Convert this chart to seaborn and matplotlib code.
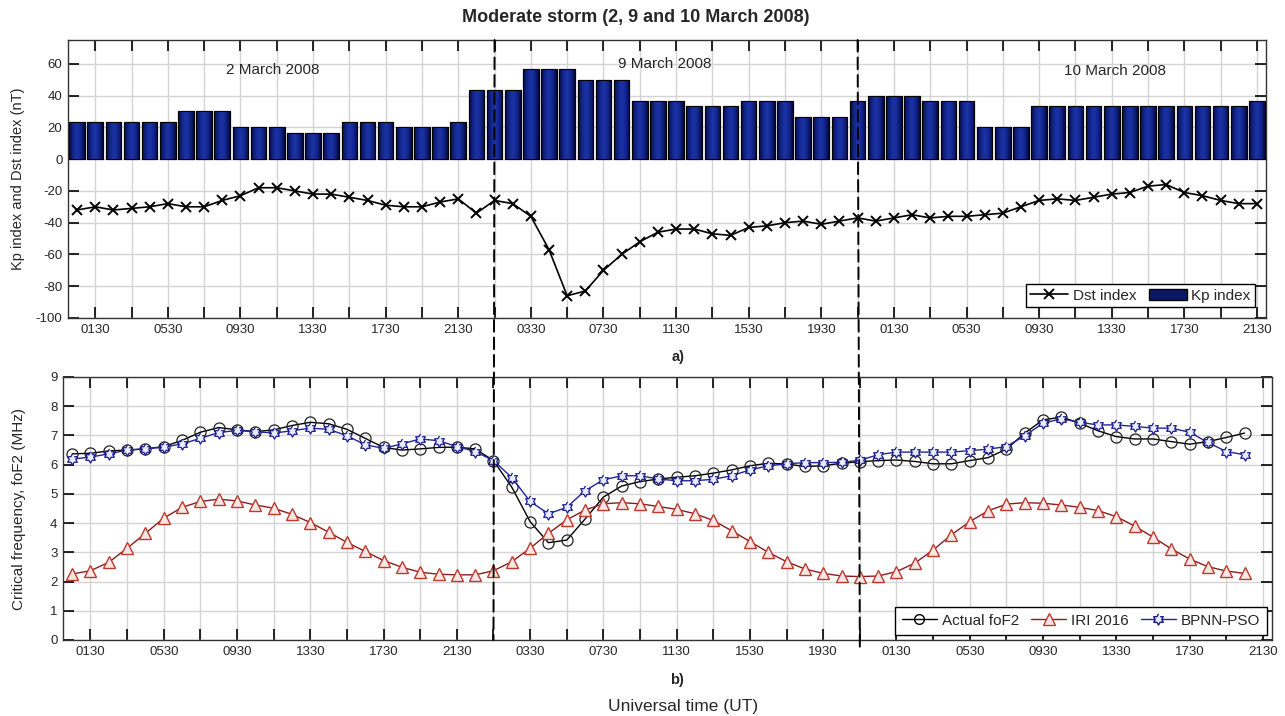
import numpy as np
import pandas as pd
import matplotlib
matplotlib.use("Agg")
import matplotlib.pyplot as plt
import seaborn as sns
from matplotlib.patches import ConnectionPatch, Patch
from matplotlib.lines import Line2D
from matplotlib.colors import LinearSegmentedColormap

# ---------------- data ----------------
kp_index = [23.3, 23.3, 23.3, 23.3, 23.3, 23.3, 30, 30, 30, 20, 20, 20,
            16.7, 16.7, 16.7, 23.3, 23.3, 23.3, 20, 20, 20, 23.3,
            43.3, 43.3, 43.3, 56.7, 56.7, 56.7, 50, 50, 50, 36.7, 36.7, 36.7,
            33.3, 33.3, 33.3, 36.7, 36.7, 36.7, 26.7, 26.7, 26.7, 36.7,
            40, 40, 40, 36.7, 36.7, 36.7, 20, 20, 20,
            33.3, 33.3, 33.3, 33.3, 33.3, 33.3, 33.3, 33.3, 33.3, 33.3, 33.3, 33.3, 36.7]

dst_index = [-32, -30, -32, -31, -30, -28, -30, -30, -26, -23, -18, -18,
             -20, -22, -22, -24, -26, -29, -30, -30, -27, -25, -34, -26,
             -28, -36, -57, -86, -83, -70, -60, -52, -46, -44, -44, -47,
             -48, -43, -42, -40, -39, -41, -39, -37, -39, -37, -35, -37,
             -36, -36, -35, -34, -30, -26, -25, -26, -24, -22, -21, -17,
             -16, -21, -23, -26, -28, -28]

actual_fof2 = [6.37, 6.39, 6.47, 6.50, 6.54, 6.62, 6.83, 7.11, 7.27, 7.19, 7.13, 7.19,
               7.34, 7.45, 7.40, 7.21, 6.90, 6.59, 6.50, 6.54, 6.59, 6.60, 6.54, 6.14,
               5.23, 4.05, 3.33, 3.42, 4.14, 4.89, 5.27, 5.42, 5.51, 5.57, 5.62, 5.71,
               5.82, 5.96, 6.05, 6.02, 5.94, 5.96, 6.05, 6.10, 6.14, 6.16, 6.11, 6.03,
               6.03, 6.14, 6.24, 6.53, 7.08, 7.53, 7.63, 7.42, 7.16, 6.96, 6.88, 6.88,
               6.79, 6.70, 6.79, 6.93, 7.08]

iri_2016 = [2.26, 2.37, 2.66, 3.14, 3.65, 4.17, 4.54, 4.74, 4.82, 4.76, 4.62, 4.51,
            4.30, 4.02, 3.69, 3.34, 3.03, 2.72, 2.49, 2.32, 2.25, 2.23, 2.23, 2.37,
            2.68, 3.14, 3.65, 4.11, 4.45, 4.66, 4.70, 4.66, 4.57, 4.47, 4.32, 4.09,
            3.74, 3.37, 3.00, 2.68, 2.43, 2.28, 2.19, 2.17, 2.19, 2.34, 2.63, 3.08,
            3.60, 4.05, 4.42, 4.65, 4.70, 4.68, 4.62, 4.54, 4.43, 4.22, 3.90, 3.52,
            3.12, 2.77, 2.51, 2.36, 2.28]

bpnn_pso = [6.19, 6.26, 6.37, 6.50, 6.54, 6.60, 6.71, 6.90, 7.10, 7.17, 7.13, 7.08,
            7.16, 7.25, 7.21, 6.99, 6.68, 6.56, 6.71, 6.88, 6.82, 6.62, 6.45, 6.14,
            5.56, 4.74, 4.32, 4.54, 5.11, 5.48, 5.62, 5.62, 5.51, 5.45, 5.45, 5.50,
            5.62, 5.82, 5.96, 6.03, 6.07, 6.07, 6.08, 6.15, 6.34, 6.43, 6.43, 6.43,
            6.43, 6.48, 6.53, 6.62, 6.99, 7.42, 7.57, 7.45, 7.36, 7.36, 7.31, 7.25,
            7.25, 7.11, 6.76, 6.45, 6.34]

tick_labels = ["0130", "0530", "0930", "1330", "1730", "2130",
               "0330", "0730", "1130", "1530", "1930",
               "0130", "0530", "0930", "1330", "1730", "2130"]
day_labels = ["2 March 2008", "9 March 2008", "10 March 2008"]
storm_marks = [23, 43]   # sample index of day boundaries (dashed lines)

# ---------------- style ----------------
sns.set_theme(style="whitegrid")
plt.rcParams["font.family"] = ["Liberation Sans", "DejaVu Sans"]
plt.rcParams["axes.unicode_minus"] = False

fig = plt.figure(figsize=(12.85, 7.16), dpi=100)
ax1 = fig.add_axes([68 / 1285, 1 - 318 / 716, 1198 / 1285, 278 / 716])
ax2 = fig.add_axes([63 / 1285, 1 - 640 / 716, 1209 / 1285, 263 / 716])

top_df = pd.DataFrame({"idx": np.arange(len(kp_index)), "kp": kp_index, "dst": dst_index})
bot_df = pd.DataFrame({"idx": np.arange(len(actual_fof2)), "actual": actual_fof2,
                       "iri": iri_2016, "bpnn": bpnn_pso})

bar_color = "#0f2080"
sns.barplot(data=top_df, x="idx", y="kp", native_scale=True, width=0.86,
            color=bar_color, saturation=1, edgecolor="black", linewidth=0.8, ax=ax1, zorder=2)

# MATLAB-like shaded bars: horizontal gradient clipped to each bar
grad_cmap = LinearSegmentedColormap.from_list(
    "barshade", ["#050a3c", "#12258c", "#1c34a8", "#12258c", "#050a3c"])
grad = np.linspace(0, 1, 64).reshape(1, -1)
for p in list(ax1.patches):
    x0, y0 = p.get_x(), p.get_y()
    w, h = p.get_width(), p.get_height()
    im = ax1.imshow(grad, cmap=grad_cmap, aspect="auto", extent=(x0, x0 + w, y0, y0 + h),
                    zorder=2.1, interpolation="bilinear")
    im.set_clip_path(p)
    ec = plt.Rectangle((x0, y0), w, h, fill=False, edgecolor="black", linewidth=0.8, zorder=2.2)
    ax1.add_patch(ec)

sns.lineplot(data=top_df, x="idx", y="dst", color="black", marker="x", markersize=7,
             markeredgecolor="black", markeredgewidth=1.4, linewidth=1.2, ax=ax1, zorder=3)

# hexagram marker
ang = np.deg2rad(90 + 30 * np.arange(12))
rad = np.where(np.arange(12) % 2 == 0, 1.0, 0.58)
hexagram = list(zip(rad * np.cos(ang), rad * np.sin(ang)))

sns.lineplot(data=bot_df, x="idx", y="actual", color="black", marker="o", markersize=8,
             markerfacecolor="none", markeredgecolor="#222222", markeredgewidth=0.9,
             linewidth=1.0, ax=ax2, zorder=3)
sns.lineplot(data=bot_df, x="idx", y="iri", color="#8b1c1c", marker="^", markersize=8,
             markerfacecolor="#f6e6e6", markeredgecolor="#c0392b", markeredgewidth=1.0,
             linewidth=1.0, ax=ax2, zorder=3)
sns.lineplot(data=bot_df, x="idx", y="bpnn", color="#23239a", marker=hexagram, markersize=8,
             markerfacecolor="#e8ecff", markeredgecolor="#1a1a8c", markeredgewidth=0.9,
             linewidth=1.0, ax=ax2, zorder=4)

ticks = np.arange(1, 66, 2)
labels = [tick_labels[k // 2] if k % 2 == 0 else "" for k in range(len(ticks))]

for ax in (ax1, ax2):
    ax.set_xlim(-0.5, 65.5)
    ax.set_xticks(ticks)
    ax.set_xticklabels(labels, fontsize=9.5)
    ax.set_xlabel("")
    ax.grid(True, color="#d4d4d4", linewidth=1.0, zorder=0)
    ax.set_axisbelow(True)
    ax.tick_params(axis="both", direction="in", length=8, width=1.2, color="black",
                   top=True, bottom=True, left=True, right=True, labelsize=9.5, pad=4)
    for s in ax.spines.values():
        s.set_color("#333333")
        s.set_linewidth(1.0)

ax1.set_ylim(-100, 75)
ax1.set_yticks(np.arange(-100, 61, 20))
ax1.set_ylabel("Kp index and Dst index (nT)", fontsize=10.5)
ax2.set_ylim(0, 9)
ax2.set_yticks(np.arange(0, 10, 1))
ax2.set_ylabel("Critical frequency, foF2 (MHz)", fontsize=11)
ax1.yaxis.set_label_coords(-0.036, 0.5)
ax2.yaxis.set_label_coords(-0.0305, 0.5)

ax1.text(10.8, 56, day_labels[0], ha="center", va="center", fontsize=11)
ax1.text(32.4, 60, day_labels[1], ha="center", va="center", fontsize=11)
ax1.text(57.2, 55.5, day_labels[2], ha="center", va="center", fontsize=11)

h1 = [Line2D([], [], color="black", marker="x", markersize=7, markeredgewidth=1.4, lw=1.2),
      Patch(facecolor="#0a1866", edgecolor="black")]
ax1.legend(h1, ["Dst index", "Kp index"], ncol=2, loc="lower right", fontsize=11,
           frameon=True, fancybox=False, edgecolor="black", framealpha=1,
           borderaxespad=0.7, handlelength=2.5, columnspacing=0.8, borderpad=0.3,
           handletextpad=0.3)

h2 = [Line2D([], [], color="black", marker="o", markersize=7, markerfacecolor="none", lw=1.0),
      Line2D([], [], color="#8b1c1c", marker="^", markersize=8, markerfacecolor="#f6e6e6",
             markeredgecolor="#c0392b", lw=1.0),
      Line2D([], [], color="#23239a", marker=hexagram, markersize=8, markerfacecolor="#e8ecff",
             markeredgecolor="#1a1a8c", lw=1.0)]
ax2.legend(h2, ["Actual foF2", "IRI 2016", "BPNN-PSO"], ncol=3, loc="lower right", fontsize=11,
           frameon=True, fancybox=False, edgecolor="black", framealpha=1,
           borderaxespad=0.35, handlelength=2.3, columnspacing=0.8, borderpad=0.45,
           handletextpad=0.3)

for m, yb in zip(storm_marks, [0, -0.25]):
    con = ConnectionPatch(xyA=(m, 75), coordsA="data", axesA=ax1,
                          xyB=(m, yb), coordsB="data", axesB=ax2,
                          color="black", linestyle=(0, (6, 3)), linewidth=1.4, zorder=10)
    con.set_annotation_clip(False)
    fig.add_artist(con)

fig.text(636 / 1285, 1 - 18 / 716, "Moderate storm (2, 9 and 10 March 2008)",
         ha="center", va="center", fontsize=13, fontweight="bold")
fig.text(678 / 1285, 1 - 357 / 716, "a)", ha="center", va="center", fontsize=10.5, fontweight="bold")
fig.text(677 / 1285, 1 - 680 / 716, "b)", ha="center", va="center", fontsize=10.5, fontweight="bold")
fig.text(683 / 1285, 1 - 707 / 716, "Universal time (UT)", ha="center", va="center", fontsize=12.5)

fig.savefig("out.png", dpi=100)
